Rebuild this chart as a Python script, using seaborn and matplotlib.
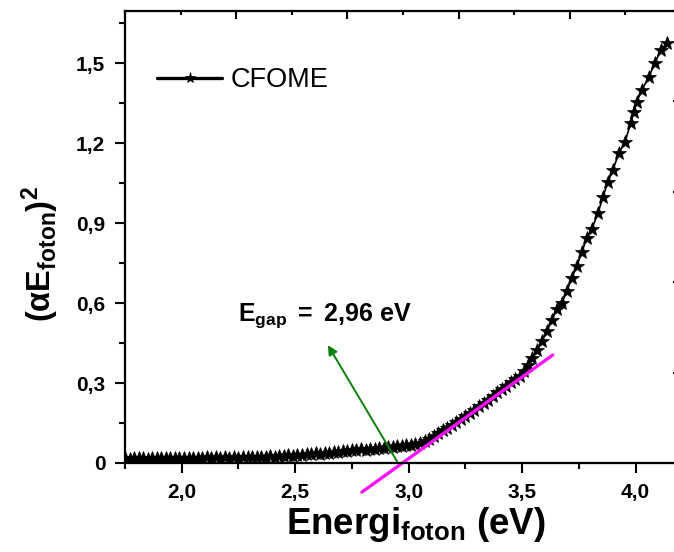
import matplotlib
matplotlib.use("Agg")
import matplotlib.pyplot as plt
import seaborn as sns
import pandas as pd
from matplotlib.ticker import FixedLocator, FixedFormatter, MultipleLocator, NullFormatter

# ---------------- data ----------------
energy = [1.75, 1.77, 1.79, 1.81, 1.83, 1.85, 1.87, 1.89, 1.91, 1.93, 1.95, 1.97, 1.99,
          2.01, 2.03, 2.05, 2.07, 2.09, 2.11, 2.13, 2.15, 2.17, 2.19, 2.21, 2.23, 2.25,
          2.27, 2.29, 2.31, 2.33, 2.35, 2.37, 2.39, 2.41, 2.43, 2.45, 2.47, 2.49, 2.51,
          2.53, 2.55, 2.57, 2.59, 2.61, 2.63, 2.65, 2.67, 2.69, 2.71, 2.73, 2.75, 2.77,
          2.79, 2.81, 2.83, 2.85, 2.87, 2.89, 2.91, 2.93, 2.95, 2.97, 2.99, 3.01, 3.03,
          3.05, 3.07, 3.09, 3.11, 3.13, 3.15, 3.17, 3.19, 3.21, 3.23, 3.25, 3.27, 3.29,
          3.31, 3.33, 3.35, 3.37, 3.39, 3.41, 3.43, 3.45, 3.47, 3.49, 3.51, 3.525, 3.543,
          3.565, 3.587, 3.609, 3.631, 3.653, 3.675, 3.697, 3.719, 3.741, 3.763, 3.785,
          3.807, 3.834, 3.856, 3.878, 3.900, 3.926, 3.953, 3.979, 3.992, 4.005, 4.027,
          4.058, 4.085, 4.111, 4.138]
alpha_e2 = [0.018, 0.016, 0.019, 0.017, 0.018, 0.016, 0.019, 0.017, 0.019, 0.017, 0.019,
            0.018, 0.020, 0.018, 0.020, 0.018, 0.020, 0.019, 0.021, 0.019, 0.021, 0.019,
            0.021, 0.020, 0.022, 0.020, 0.022, 0.021, 0.023, 0.022, 0.024, 0.023, 0.025,
            0.024, 0.027, 0.026, 0.029, 0.028, 0.031, 0.030, 0.033, 0.032, 0.036, 0.035,
            0.039, 0.038, 0.042, 0.041, 0.045, 0.044, 0.048, 0.047, 0.051, 0.050, 0.054,
            0.053, 0.057, 0.056, 0.060, 0.060, 0.064, 0.064, 0.068, 0.069, 0.073, 0.076,
            0.082, 0.090, 0.100, 0.111, 0.122, 0.132, 0.142, 0.153, 0.164, 0.176, 0.188,
            0.200, 0.213, 0.226, 0.238, 0.250, 0.265, 0.278, 0.290, 0.302, 0.314, 0.328,
            0.345, 0.366, 0.394, 0.424, 0.457, 0.495, 0.536, 0.577, 0.600, 0.645, 0.694,
            0.739, 0.791, 0.844, 0.877, 0.937, 0.997, 1.054, 1.099, 1.162, 1.204, 1.275,
            1.315, 1.354, 1.399, 1.447, 1.500, 1.549, 1.575]

fit_x = [2.794, 3.635]
fit_y = [-0.109, 0.405]

arrow_start = (2.953, 0.0)
arrow_end = (2.644, 0.442)

xtick_vals = [2.0, 2.5, 3.0, 3.5, 4.0]
xtick_labels = ["2,0", "2,5", "3,0", "3,5", "4,0"]
ytick_vals = [0.0, 0.3, 0.6, 0.9, 1.2, 1.5]
ytick_labels = ["0", "0,3", "0,6", "0,9", "1,2", "1,5"]

series_name = "CFOME"
gap_label = r"$\mathbf{E_{gap}\ =\ 2{,}96\ eV}$"

df = pd.DataFrame({"energy": energy, "value": alpha_e2})

# ---------------- style ----------------
sns.set_style("ticks")
plt.rcParams["font.family"] = ["Liberation Sans", "DejaVu Sans"]
plt.rcParams["text.color"] = "black"
plt.rcParams["axes.labelcolor"] = "black"
plt.rcParams["xtick.color"] = "black"
plt.rcParams["ytick.color"] = "black"
plt.rcParams["mathtext.fontset"] = "custom"
plt.rcParams["mathtext.rm"] = "Liberation Sans"
plt.rcParams["mathtext.bf"] = "Liberation Sans:bold"
plt.rcParams["mathtext.it"] = "Liberation Sans:italic"
plt.rcParams["mathtext.sf"] = "Liberation Sans"

fig = plt.figure(figsize=(6.74, 5.52), dpi=100)
W, H = 674, 552
ax = fig.add_axes([125 / W, (H - 463) / H, (681 - 125) / W, (463 - 11) / H])

sns.lineplot(data=df, x="energy", y="value", ax=ax, color="black", linewidth=1.2,
             marker="*", markersize=10.5, markeredgecolor="black", markeredgewidth=0.5,
             label=series_name, sort=False, zorder=3)

ax.plot(fit_x, fit_y, color="#ff10ff", linewidth=2.4, clip_on=False, zorder=4,
        solid_capstyle="round")
ax.annotate("", xy=arrow_end, xytext=arrow_start,
            arrowprops=dict(arrowstyle="-|>", color="#0b800b", lw=1.4,
                            mutation_scale=14, shrinkA=0, shrinkB=0), zorder=5)
ax.text(2.248, 0.532, gap_label, fontsize=18, ha="left", va="baseline", color="black")

ax.set_xlim(1.75, 4.2)
ax.set_ylim(0, 1.695)

ax.xaxis.set_major_locator(FixedLocator(xtick_vals))
ax.xaxis.set_major_formatter(FixedFormatter(xtick_labels))
ax.xaxis.set_minor_locator(MultipleLocator(0.25))
ax.yaxis.set_major_locator(FixedLocator(ytick_vals))
ax.yaxis.set_major_formatter(FixedFormatter(ytick_labels))
ax.yaxis.set_minor_locator(MultipleLocator(0.15))

for sp in ax.spines.values():
    sp.set_linewidth(1.5)
    sp.set_color("black")

ax.tick_params(which="both", direction="out", top=False, right=False, width=1.5,
               colors="black", labelcolor="black")
ax.tick_params(which="major", length=7.2, pad=7)
ax.tick_params(which="minor", length=4.3)
for lab in ax.get_xticklabels() + ax.get_yticklabels():
    lab.set_fontsize(15)
    lab.set_fontweight("bold")

ax.set_xlabel(r"$\mathbf{Energi_{foton}\ (eV)}$", fontsize=26.5, color="black")
ax.xaxis.set_label_coords(0.523, -0.094)
ax.set_ylabel(r"$\mathbf{(\alpha E_{foton})^2}$", fontsize=23.5, color="black")
ax.yaxis.set_label_coords(-0.115, 0.462)

# top and right auxiliary tick scales
axt = ax.twiny()
axt.set_xlim(0, 5)
axt.xaxis.set_major_locator(MultipleLocator(1))
axt.xaxis.set_minor_locator(MultipleLocator(0.5))
axt.xaxis.set_major_formatter(NullFormatter())
axt.tick_params(which="both", direction="in", top=True, bottom=False, width=1.5, colors="black")
axt.tick_params(which="major", length=6)
axt.tick_params(which="minor", length=3)
axr = ax.twinx()
axr.set_ylim(0, 5)
axr.yaxis.set_major_locator(MultipleLocator(1))
axr.yaxis.set_major_formatter(NullFormatter())
axr.tick_params(which="both", direction="in", right=True, left=False, width=1.5, length=6,
                colors="black")
for a in (axt, axr):
    for sp in a.spines.values():
        sp.set_linewidth(1.5)
        sp.set_color("black")

leg = ax.legend(loc="center left", bbox_to_anchor=(0.0576, 0.847), frameon=False,
                fontsize=19.5, handlelength=2.4, handletextpad=0.3, borderpad=0,
                borderaxespad=0, numpoints=1)
for h in leg.legend_handles:
    h.set_markersize(8)
    h.set_linewidth(2.4)
for t in leg.get_texts():
    t.set_color("black")

fig.savefig("out.png", dpi=100)
